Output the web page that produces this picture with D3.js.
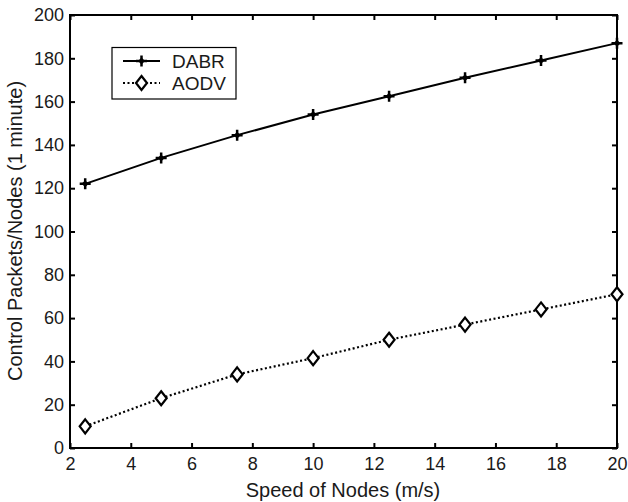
<!DOCTYPE html>
<html><head><meta charset="utf-8">
<script src="https://cdn.jsdelivr.net/npm/d3@7"></script>
<style>body{margin:0;background:#fff}svg{display:block}</style>
</head><body>
<svg id="c" width="628" height="502"></svg>
<script>
const speeds = [2.5, 5, 7.5, 10, 12.5, 15, 17.5, 20];
const dabr = [122, 134, 144.5, 154, 162.5, 171, 179, 187];
const aodv = [10, 23, 34, 41.5, 50, 57, 64, 71];
const xTicks = [2, 4, 6, 8, 10, 12, 14, 16, 18, 20];
const yTicks = [0, 20, 40, 60, 80, 100, 120, 140, 160, 180, 200];
const seriesNames = ["DABR", "AODV"];

const svg = d3.select("#c");
const L = 70, R = 617, T = 15, B = 448;
const x = d3.scaleLinear().domain([2, 20]).range([L, R]);
const y = d3.scaleLinear().domain([0, 200]).range([B, T]);
const font = "'Liberation Sans', Arial, sans-serif";
const txt = "#1a1a1a";

// axes with inward ticks
const tl = 5;
const gx = svg.append("g").attr("transform", `translate(0,${B})`)
  .call(d3.axisBottom(x).tickValues(xTicks).tickSizeInner(-tl).tickSizeOuter(0).tickPadding(9));
const gxt = svg.append("g").attr("transform", `translate(0,${T})`)
  .call(d3.axisTop(x).tickValues(xTicks).tickSizeInner(-tl).tickSizeOuter(0).tickFormat(""));
const gy = svg.append("g").attr("transform", `translate(${L},0)`)
  .call(d3.axisLeft(y).tickValues(yTicks).tickSizeInner(-tl).tickSizeOuter(0).tickPadding(6));
const gyr = svg.append("g").attr("transform", `translate(${R},0)`)
  .call(d3.axisRight(y).tickValues(yTicks).tickSizeInner(-tl).tickSizeOuter(0).tickFormat(""));
[gx, gxt, gy, gyr].forEach(g => {
  g.select(".domain").remove();
  g.selectAll(".tick line").attr("stroke", "#000").attr("stroke-width", 2);
  g.selectAll("text").attr("font-family", font).attr("font-size", 18).attr("fill", txt);
});
gx.selectAll("text").attr("dy", "0.71em");
svg.append("rect").attr("x", L).attr("y", T).attr("width", R - L).attr("height", B - T)
  .attr("fill", "none").attr("stroke", "#000").attr("stroke-width", 2);

// labels
svg.append("text").attr("x", 343).attr("y", 497).attr("text-anchor", "middle")
  .attr("font-family", font).attr("font-size", 20).attr("fill", txt).text("Speed of Nodes (m/s)");
svg.append("text").attr("transform", `translate(22,231) rotate(-90)`).attr("text-anchor", "middle")
  .attr("font-family", font).attr("font-size", 20).attr("fill", txt).text("Control Packets/Nodes (1 minute)");

const line = d3.line().x(d => x(d[0])).y(d => y(d[1]));
const dData = speeds.map((s, i) => [s, dabr[i]]);
const aData = speeds.map((s, i) => [s, aodv[i]]);

svg.append("path").datum(dData).attr("d", line).attr("fill", "none").attr("stroke", "#000").attr("stroke-width", 2);
svg.append("path").datum(aData).attr("d", line).attr("fill", "none").attr("stroke", "#000").attr("stroke-width", 2.2).attr("stroke-dasharray", "2,2.5");

function plus(g, cx, cy) {
  g.append("path").attr("d", `M${cx-5.5},${cy}H${cx+5.5}M${cx},${cy-5.5}V${cy+5.5}`)
    .attr("stroke", "#000").attr("stroke-width", 2.5);
  g.append("path").attr("d", `M${cx},${cy-3.5}L${cx+3.5},${cy}L${cx},${cy+3.5}L${cx-3.5},${cy}Z`)
    .attr("fill", "#000");
}
function diamond(g, cx, cy) {
  g.append("path").attr("d", `M${cx},${cy-7}L${cx+5.5},${cy}L${cx},${cy+7}L${cx-5.5},${cy}Z`)
    .attr("fill", "#fff").attr("stroke", "#000").attr("stroke-width", 2.2);
}
const mg = svg.append("g");
dData.forEach(d => plus(mg, x(d[0]), y(d[1])));
aData.forEach(d => diamond(mg, x(d[0]), y(d[1])));

// legend
const lg = svg.append("g");
lg.append("rect").attr("x", 112).attr("y", 47.5).attr("width", 124).attr("height", 51.5)
  .attr("fill", "#fff").attr("stroke", "#000").attr("stroke-width", 1.2);
const rows = [61, 83];
lg.append("line").attr("x1", 123).attr("x2", 160).attr("y1", rows[0]).attr("y2", rows[0]).attr("stroke", "#000").attr("stroke-width", 2);
plus(lg, 141.5, rows[0]);
lg.append("line").attr("x1", 123).attr("x2", 160).attr("y1", rows[1]).attr("y2", rows[1]).attr("stroke", "#000").attr("stroke-width", 2.2).attr("stroke-dasharray", "2,2.5");
diamond(lg, 141.5, rows[1]);
seriesNames.forEach((n, i) => {
  lg.append("text").attr("x", 172).attr("y", rows[i]).attr("dy", "0.36em")
    .attr("font-family", font).attr("font-size", 19).attr("fill", txt).text(n);
});
</script>
</body></html>
